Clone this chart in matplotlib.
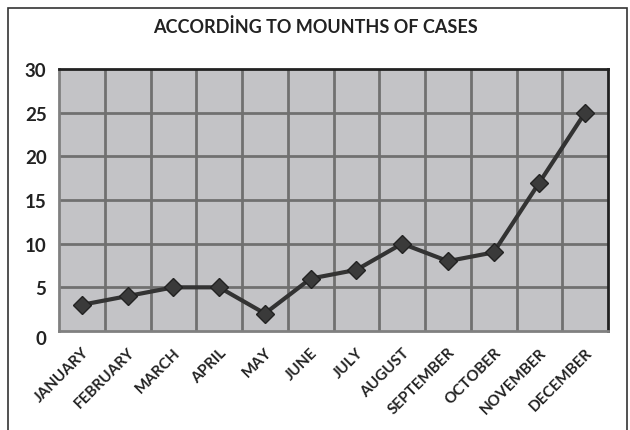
import matplotlib.pyplot as plt
import matplotlib.transforms as mtransforms
import numpy as np

months = ["JANUARY", "FEBRUARY", "MARCH", "APRIL", "MAY", "JUNE", "JULY",
          "AUGUST", "SEPTEMBER", "OCTOBER", "NOVEMBER", "DECEMBER"]
cases = [3, 4, 5, 5, 2, 6, 7, 10, 8, 9, 17, 25]
y_ticks = [0, 5, 10, 15, 20, 25, 30]

plt.rcParams['font.family'] = ['Lato', 'DejaVu Sans']

fig = plt.figure(figsize=(6.3, 4.31), dpi=100)
ax = fig.add_axes([59 / 630, 1 - 332 / 431, (608 - 59) / 630, (332 - 70) / 431])

x = np.arange(len(months))
ax.plot(x, cases, color='#333333', lw=3, marker='D', ms=9,
        markerfacecolor='#3a3a3a', markeredgecolor='#222222', zorder=3)

ax.set_facecolor('#c3c3c6')
ax.set_xlim(-0.5, len(months) - 0.5)
ax.set_ylim(0, 30)
ax.set_yticks(y_ticks)
ax.set_yticklabels([str(v) for v in y_ticks], fontsize=13.5, fontweight='bold', color='#222222')
ax.set_xticks(x)
ax.set_xticklabels(months, rotation=45, ha='right', rotation_mode='anchor',
                   fontsize=11, fontweight='bold', color='#222222')
ax.tick_params(length=0, pad=9)
ax.tick_params(axis='x', pad=10)
# the zero label sits a little below the axis in the original
zero = ax.get_yticklabels()[0]
zero.set_transform(zero.get_transform() +
                   mtransforms.ScaledTranslation(0, -6 / 100, fig.dpi_scale_trans))

# grid between categories and on the value ticks
for gx in np.arange(0.5, len(months) - 0.5, 1):
    ax.axvline(gx, color='#707070', lw=2, zorder=1)
for gy in y_ticks[1:-1]:
    ax.axhline(gy, color='#707070', lw=2, zorder=1)

for side in ['left', 'bottom']:
    ax.spines[side].set_color('#808080')
    ax.spines[side].set_linewidth(2)
for side in ['top', 'right']:
    ax.spines[side].set_color('#222222')
    ax.spines[side].set_linewidth(2)

fig.text(0.5, 1 - 27 / 431, "ACCORDİNG TO MOUNTHS OF CASES", ha='center', va='center',
         fontsize=13, fontweight='bold', color='#222222')

# outer frame of the chart
frame = plt.Rectangle((8 / 630, -0.01), 619 / 630, 1 - 9 / 431 + 0.01, transform=fig.transFigure,
                      fill=False, edgecolor='#333333', lw=1.2)
fig.patches.append(frame)

fig.savefig('out.png', dpi=100)
